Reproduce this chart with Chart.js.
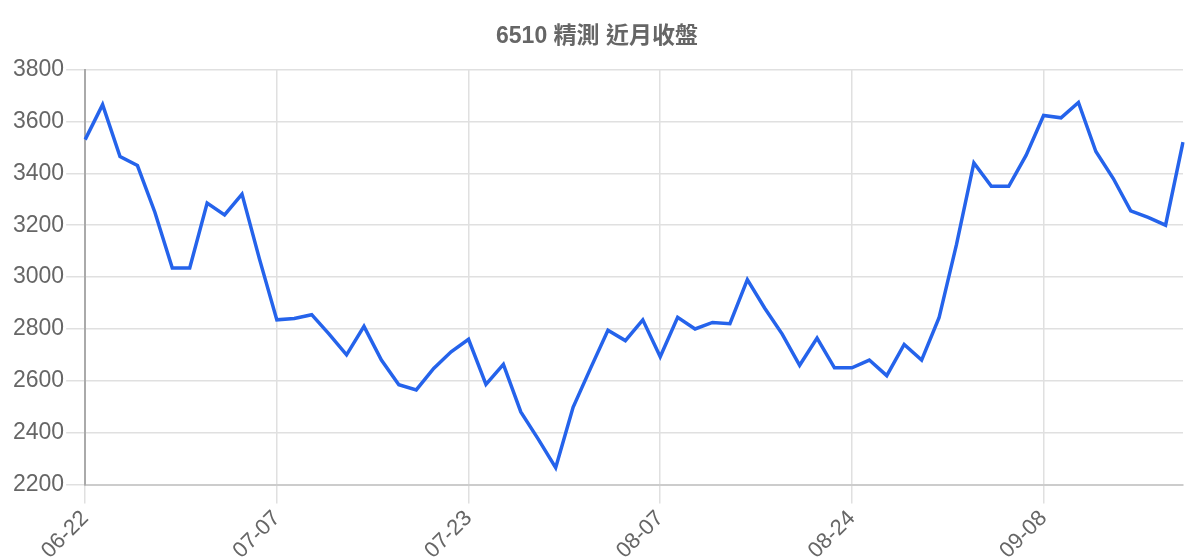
<!DOCTYPE html>
<html>
<head>
<meta charset="utf-8">
<script src="https://cdn.jsdelivr.net/npm/chart.js@4"></script>
<style>
  html, body { margin: 0; padding: 0; background: #fff; }
  #wrap { width: 1200px; height: 560px; }
</style>
</head>
<body>
<div id="wrap"><canvas id="closeChart"></canvas></div>
<script>
// 交易日 (MM-DD)
const tradeDates = [
  '06-22', '06-23', '06-26', '06-27', '06-28', '06-29', '06-30', '07-03', '07-04', '07-05', '07-06',
  '07-07', '07-10', '07-11', '07-12', '07-13', '07-14', '07-17', '07-18', '07-19', '07-20', '07-21',
  '07-23', '07-24', '07-25', '07-26', '07-27', '07-28', '07-31', '08-01', '08-02', '08-03', '08-04',
  '08-07', '08-08', '08-10', '08-11', '08-14', '08-15', '08-16', '08-17', '08-18', '08-21', '08-23',
  '08-24', '08-25', '08-26', '08-29', '08-30', '08-31', '09-01', '09-04', '09-05', '09-06', '09-07',
  '09-08', '09-11', '09-12', '09-13', '09-14', '09-15', '09-18', '09-19', '09-20'
];

// 收盤價
const closePrices = [
  3530, 3665, 3465, 3430, 3250, 3035, 3035, 3285, 3240, 3320, 3070,
  2835, 2840, 2855, 2780, 2700, 2810, 2680, 2585, 2565, 2648, 2712,
  2760, 2586, 2663, 2480, 2375, 2265, 2498, 2648, 2795, 2755, 2835,
  2693, 2845, 2800, 2825, 2820, 2990, 2880, 2780, 2660, 2765, 2650,
  2650, 2680, 2620, 2740, 2680, 2843, 3125, 3440, 3350, 3350, 3470,
  3623, 3614, 3673, 3484, 3380, 3255, 3230, 3200, 3520
];

const yMin = 2200;
const yMax = 3800;
const yStep = 200;

const chartTitle = '6510 精測 近月收盤';

const fontFamily = '"Liberation Sans", Arial, "Noto Sans CJK TC", sans-serif';

const ctx = document.getElementById('closeChart').getContext('2d');

const myChart = new Chart(ctx, {
  type: 'line',
  data: {
    labels: tradeDates,
    datasets: [{
      label: '收盤',
      data: closePrices,
      borderColor: '#2563eb',
      borderWidth: 3.5,
      pointRadius: 0,
      tension: 0,
      fill: false
    }]
  },
  options: {
    responsive: true,
    maintainAspectRatio: false,
    animation: false,
    layout: {
      padding: { left: 11, right: 17, top: 0, bottom: -6 }
    },
    plugins: {
      legend: { display: false },
      tooltip: { enabled: false },
      title: {
        display: true,
        text: chartTitle,
        color: '#666',
        font: { family: fontFamily, size: 23, weight: 'bold' },
        padding: { top: 23, bottom: 19 }
      }
    },
    scales: {
      x: {
        grid: { color: '#e0e0e0', lineWidth: 1.5, tickLength: 19, tickColor: '#e0e0e0' },
        border: { color: '#cccccc', width: 2 },
        ticks: {
          color: '#666',
          font: { family: fontFamily, size: 22 },
          minRotation: 45,
          maxRotation: 45,
          autoSkip: true,
          maxTicksLimit: 6,
          padding: 2
        }
      },
      y: {
        min: yMin,
        max: yMax,
        grid: { color: '#e0e0e0', lineWidth: 1.5, tickLength: 19, tickColor: '#e0e0e0' },
        border: { color: '#aaaaaa', width: 2 },
        ticks: {
          stepSize: yStep,
          color: '#666',
          font: { family: fontFamily, size: 23 },
          padding: 2,
          callback: function(value) { return String(value); }
        }
      }
    }
  }
});
</script>
</body>
</html>
